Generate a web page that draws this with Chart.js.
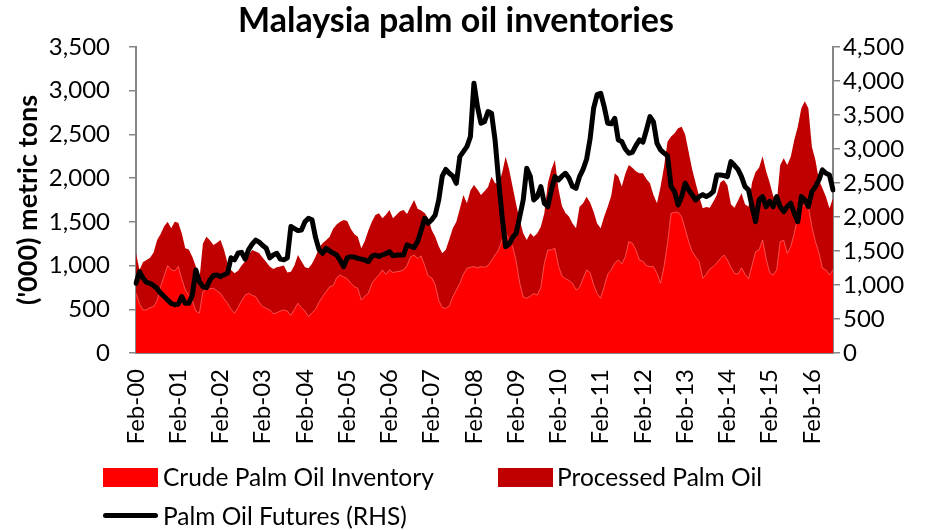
<!DOCTYPE html>
<html>
<head>
<meta charset="utf-8">
<script src="https://cdn.jsdelivr.net/npm/chart.js@4.4.1/dist/chart.umd.min.js"></script>
<style>
  body { margin: 0; background: #fff; }
  #wrap { position: relative; width: 928px; height: 530px; font-family: Lato, "Noto Sans", sans-serif; color: #000; }
  #title { position: absolute; left: 0; width: 912px; top: -1px; text-align: center; font-weight: bold; font-size: 34px; line-height: 40px; }
  .key { position: absolute; }
  .lbl { position: absolute; font-size: 24.5px; line-height: 28px; white-space: nowrap; }
</style>
</head>
<body>
<div id="wrap">
  <canvas id="inventoryChart" width="928" height="530"></canvas>
  <div id="title">Malaysia palm oil inventories</div>
  <div class="key" style="left:103px; top:468px; width:55px; height:19px; background:#FF0000;"></div>
  <div class="lbl" style="left:163px; top:463px;">Crude Palm Oil Inventory</div>
  <div class="key" style="left:498px; top:468px; width:55px; height:19px; background:#C00000;"></div>
  <div class="lbl" style="left:557px; top:463px;">Processed Palm Oil</div>
  <div class="key" style="left:103px; top:513px; width:55px; height:5px; background:#000; border-radius:3px;"></div>
  <div class="lbl" style="left:163px; top:502px;">Palm Oil Futures (RHS)</div>
</div>
<script>
// monthly series, Feb-00 onwards ('000 tonnes)
const crudeStocks = [
  683, 560, 492, 495, 520, 530, 600, 760, 880, 1000,
  950, 940, 988, 850, 720, 660, 600, 480, 454, 700,
  730, 735, 740, 710, 683, 620, 568, 500, 454, 520,
  600, 660, 683, 660, 644, 580, 530, 510, 492, 450,
  460, 480, 492, 480, 430, 500, 568, 520, 480, 416,
  460, 500, 580, 644, 700, 759, 770, 860, 892, 870,
  850, 800, 759, 740, 606, 650, 683, 797, 850, 892,
  950, 900, 950, 920, 930, 935, 950, 1000, 1100, 1120,
  1080, 1110, 1000, 880, 860, 780, 600, 520, 511, 540,
  644, 720, 797, 900, 969, 980, 988, 975, 988, 980,
  1000, 1060, 1121, 1178, 1293, 1369, 1300, 1216, 1050, 800,
  640, 626, 650, 680, 664, 750, 1026, 1178, 1180, 1198,
  1000, 880, 850, 830, 797, 721, 750, 850, 950, 920,
  780, 680, 626, 760, 900, 950, 1030, 1064, 1020, 1100,
  1274, 1255, 1180, 1064, 1050, 1000, 988, 988, 912, 797,
  988, 1255, 1598, 1610, 1610, 1560, 1420, 1274, 1160, 1100,
  1045, 854, 900, 960, 990, 1030, 1080, 1121, 1064, 980,
  912, 900, 975, 900, 850, 1000, 1160, 1178, 1293, 1080,
  920, 892, 950, 1274, 1290, 1140, 1216, 1369, 1560, 1674,
  1690, 1674, 1445, 1274, 1150, 969, 950, 892, 950
];

// crude + processed, i.e. top of the stack
const totalStocks = [
  1140, 950, 1040, 1064, 1090, 1150, 1293, 1360, 1450, 1502,
  1426, 1500, 1491, 1369, 1197, 1185, 1100, 988, 835, 1250,
  1331, 1290, 1236, 1260, 1293, 1180, 1030, 950, 912, 940,
  1000, 1050, 1120, 1178, 1160, 1140, 1090, 1040, 988, 960,
  980, 990, 1000, 920, 930, 1000, 1120, 1050, 980, 970,
  1020, 1100, 1200, 1255, 1290, 1331, 1420, 1470, 1500, 1522,
  1510, 1420, 1360, 1331, 1197, 1280, 1400, 1500, 1579, 1598,
  1540, 1580, 1636, 1540, 1580, 1620, 1636, 1590, 1674, 1750,
  1650, 1630, 1600, 1541, 1407, 1330, 1220, 1140, 1180, 1300,
  1426, 1500, 1650, 1808, 1712, 1860, 1922, 1870, 1808, 1850,
  1900, 2017, 1941, 1941, 2060, 2246, 2100, 1900, 1700, 1522,
  1369, 1293, 1369, 1330, 1369, 1445, 1598, 1941, 2100, 2208,
  1880, 1680, 1600, 1560, 1480, 1426, 1674, 1712, 1788, 1720,
  1617, 1480, 1426, 1560, 1674, 1800, 2055, 2020, 1903, 2050,
  2151, 2120, 2080, 2055, 2055, 1990, 1941, 1808, 1712, 1900,
  2131, 2420, 2475, 2513, 2570, 2589, 2500, 2300, 2100, 1941,
  1788, 1655, 1670, 1660, 1730, 1808, 1950, 1979, 1920, 1700,
  1660, 1740, 1827, 1700, 1674, 1950, 2070, 2120, 2250, 2080,
  1950, 1800, 1712, 2151, 2227, 2151, 2246, 2437, 2589, 2800,
  2880, 2800, 2360, 2208, 1979, 1884, 1788, 1655, 1770
];

// palm oil futures, RM/tonne
const futuresPrice = [
  1025, 1196, 1100, 1040, 1025, 990, 950, 880, 830, 780,
  730, 710, 720, 830, 730, 730, 850, 1220, 1050, 976,
  960, 1074, 1140, 1147, 1123, 1150, 1172, 1400, 1370, 1470,
  1480, 1380, 1520, 1600, 1660, 1630, 1580, 1540, 1400, 1440,
  1466, 1380, 1370, 1400, 1860, 1830, 1800, 1809, 1930, 1981,
  1960, 1700, 1520, 1466, 1540, 1500, 1470, 1441, 1360, 1270,
  1400, 1417, 1410, 1392, 1380, 1368, 1343, 1420, 1441, 1420,
  1441, 1460, 1491, 1430, 1440, 1441, 1441, 1589, 1570, 1550,
  1640, 1800, 1981, 1908, 1960, 2030, 2250, 2600, 2700, 2643,
  2600, 2496, 2888, 2962, 3035, 3182, 3967, 3623, 3379, 3400,
  3550, 3525, 3133, 2545, 2005, 1564, 1600, 1700, 1760, 2005,
  2250, 2717, 2600, 2250, 2300, 2447, 2202, 2153, 2400, 2594,
  2545, 2600, 2643, 2570, 2450, 2422, 2594, 2700, 2850, 3150,
  3600, 3800, 3820, 3623, 3379, 3370, 3452, 3133, 3109, 3000,
  2937, 2950, 3050, 3133, 3100, 3280, 3476, 3400, 3085, 2986,
  2940, 2900, 2447, 2373, 2177, 2300, 2496, 2398, 2324, 2251,
  2300, 2330, 2300, 2330, 2373, 2618, 2618, 2610, 2594, 2814,
  2760, 2700, 2594, 2447, 2398, 2153, 1931, 2251, 2300, 2153,
  2230, 2153, 2300, 2150, 2079, 2153, 2202, 2055, 1931, 2300,
  2250, 2153, 2373, 2447, 2545, 2692, 2643, 2618, 2398
];

const monthNames = ['Jan', 'Feb', 'Mar', 'Apr', 'May', 'Jun', 'Jul', 'Aug', 'Sep', 'Oct', 'Nov', 'Dec'];
const firstYear = 2000;
const firstMonth = 1; // Feb

const monthLabels = crudeStocks.map((_, i) => {
  const m = (firstMonth + i) % 12;
  const y = firstYear + Math.floor((firstMonth + i) / 12);
  return `${monthNames[m]}-${String(y % 100).padStart(2, '0')}`;
});

const axisGrey = '#868686';
const fontFamily = 'Lato, "Noto Sans", sans-serif';

const ctx = document.getElementById('inventoryChart').getContext('2d');
new Chart(ctx, {
  type: 'line',
  data: {
    labels: monthLabels,
    datasets: [
      {
        label: 'Palm Oil Futures (RHS)',
        data: futuresPrice,
        yAxisID: 'y1',
        borderColor: '#000',
        borderWidth: 5,
        borderJoinStyle: 'round',
        borderCapStyle: 'round',
        pointRadius: 0,
        tension: 0,
        fill: false
      },
      {
        label: 'Crude Palm Oil Inventory',
        data: crudeStocks,
        yAxisID: 'y',
        backgroundColor: '#FF0000',
        borderColor: 'rgba(255, 110, 110, 0.9)',
        borderWidth: 0.8,
        pointRadius: 0,
        tension: 0,
        fill: 'origin'
      },
      {
        label: 'Processed Palm Oil',
        data: totalStocks,
        yAxisID: 'y',
        backgroundColor: '#C00000',
        borderColor: 'rgba(0,0,0,0)',
        borderWidth: 0,
        pointRadius: 0,
        tension: 0,
        fill: 'origin'
      }
    ]
  },
  options: {
    responsive: false,
    animation: false,
    layout: { padding: { top: 47, left: 0, right: 0, bottom: 77 } },
    plugins: {
      legend: { display: false },
      title: { display: false },
      tooltip: { enabled: false }
    },
    scales: {
      x: {
        type: 'category',
        offset: false,
        grid: { display: false },
        border: { color: axisGrey, width: 2 },
        afterFit: (scale) => { scale.height = 100; },
        ticks: {
          autoSkip: false,
          minRotation: 90,
          maxRotation: 90,
          padding: 8,
          color: '#000',
          font: { family: fontFamily, size: 24 },
          callback: function(value, index) {
            return index % 12 === 0 ? this.getLabelForValue(value) : '';
          }
        }
      },
      y: {
        position: 'left',
        min: 0,
        max: 3500,
        afterFit: (scale) => { scale.width = 136; },
        grid: { drawOnChartArea: false, color: axisGrey, tickLength: 7, lineWidth: 1.5 },
        border: { color: axisGrey, width: 2 },
        title: {
          display: true,
          text: "('000) metric tons",
          color: '#000',
          font: { family: fontFamily, size: 27, weight: 'bold' },
          padding: { top: 12, bottom: 0 }
        },
        ticks: {
          stepSize: 500,
          padding: 19,
          color: '#000',
          font: { family: fontFamily, size: 24 },
          callback: (v) => v.toLocaleString('en-US')
        }
      },
      y1: {
        position: 'right',
        min: 0,
        max: 4500,
        afterFit: (scale) => { scale.width = 95; },
        grid: { drawOnChartArea: false, color: axisGrey, tickLength: 7, lineWidth: 1.5 },
        border: { color: axisGrey, width: 2 },
        ticks: {
          stepSize: 500,
          padding: 3,
          color: '#000',
          font: { family: fontFamily, size: 24 },
          callback: (v) => v.toLocaleString('en-US')
        }
      }
    }
  }
});
</script>
</body>
</html>
